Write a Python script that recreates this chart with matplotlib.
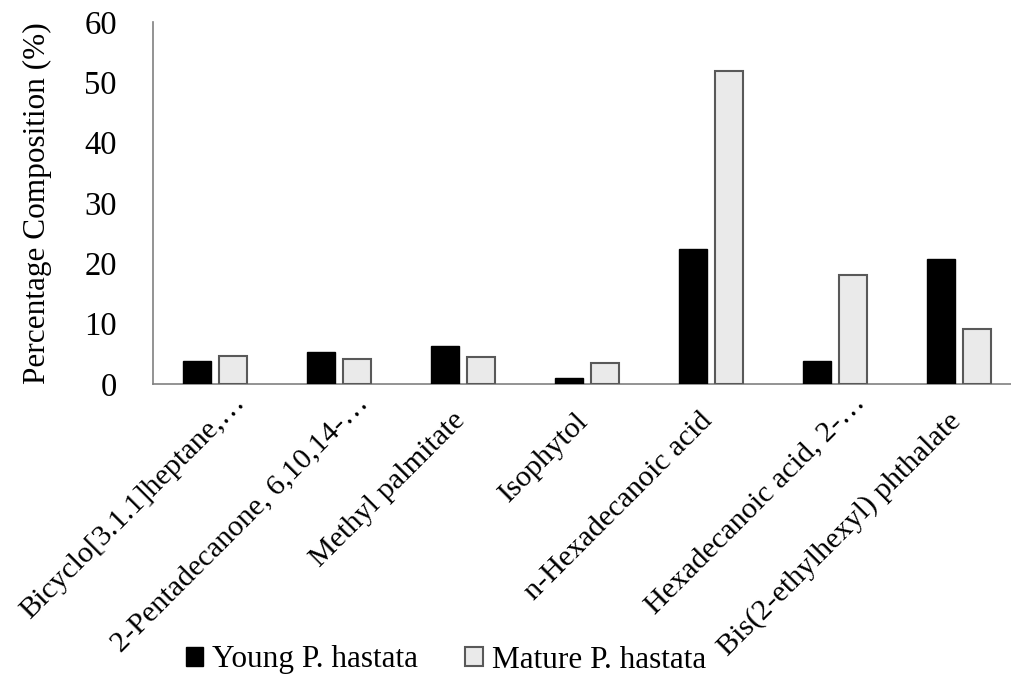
import matplotlib
matplotlib.use("Agg")
import matplotlib.pyplot as plt
import matplotlib.transforms as mtransforms
import numpy as np

categories = ["Bicyclo[3.1.1]heptane,\u2026", "2-Pentadecanone, 6,10,14-\u2026",
              "Methyl palmitate", "Isophytol", "n-Hexadecanoic acid",
              "Hexadecanoic acid, 2-\u2026", "Bis(2-ethylhexyl) phthalate"]
young = [3.75, 5.35, 6.35, 0.95, 22.4, 3.8, 20.8]
mature = [4.7, 4.15, 4.4, 3.5, 51.9, 18.0, 9.1]
series_names = ["Young P. hastata", "Mature P. hastata"]
yticks = [0, 10, 20, 30, 40, 50, 60]

plt.rcParams['font.family'] = ['Liberation Serif', 'DejaVu Serif']
fig = plt.figure(figsize=(10.11, 6.81), dpi=100)
W, H = 1011, 681
left, right, top, bottom = 153, 1011, 22, 384
ax = fig.add_axes([left / W, 1 - bottom / H, (right - left) / W, (bottom - top) / H])

x = np.arange(len(categories))
bw = 0.226
off = 0.145
ax.bar(x - off, young, bw, color='black', edgecolor='black', linewidth=1.0, label=series_names[0], zorder=3)
ax.bar(x + off, mature, bw, color='#EAEAEA', edgecolor='#595959', linewidth=1.5, label=series_names[1], zorder=3)

fs = 22.5
ax.set_xlim(-0.5, -0.5 + (right - left) / 124.0)
ax.set_ylim(0, 60)
ax.set_yticks(yticks)
ax.set_yticklabels([str(v) for v in yticks], fontsize=23.5)
ax.tick_params(axis='y', length=0, pad=26)
ax.tick_params(axis='x', length=0, pad=17)
ax.set_xticks(x - 0.092)
ax.set_xticklabels(categories, rotation=45, ha='right', va='top', rotation_mode='anchor', fontsize=21.7)
shift = mtransforms.ScaledTranslation(0.28, 0.18, fig.dpi_scale_trans)
for lab in ax.get_xticklabels():
    if lab.get_text().endswith("\u2026"):
        lab.set_transform(lab.get_transform() + shift)
for s in ['top', 'right']:
    ax.spines[s].set_visible(False)
for s in ['left', 'bottom']:
    ax.spines[s].set_color('#808080')
    ax.spines[s].set_linewidth(1.2)
ax.set_ylabel("Percentage Composition (%)", fontsize=fs, labelpad=23)

leg = fig.legend(loc='center', bbox_to_anchor=(446 / W, 1 - 660 / H), ncol=2, frameon=False,
                 fontsize=fs, handlelength=0.55, handleheight=0.55, handletextpad=0.3,
                 columnspacing=1.5)
fig.savefig("out.png", dpi=100)
